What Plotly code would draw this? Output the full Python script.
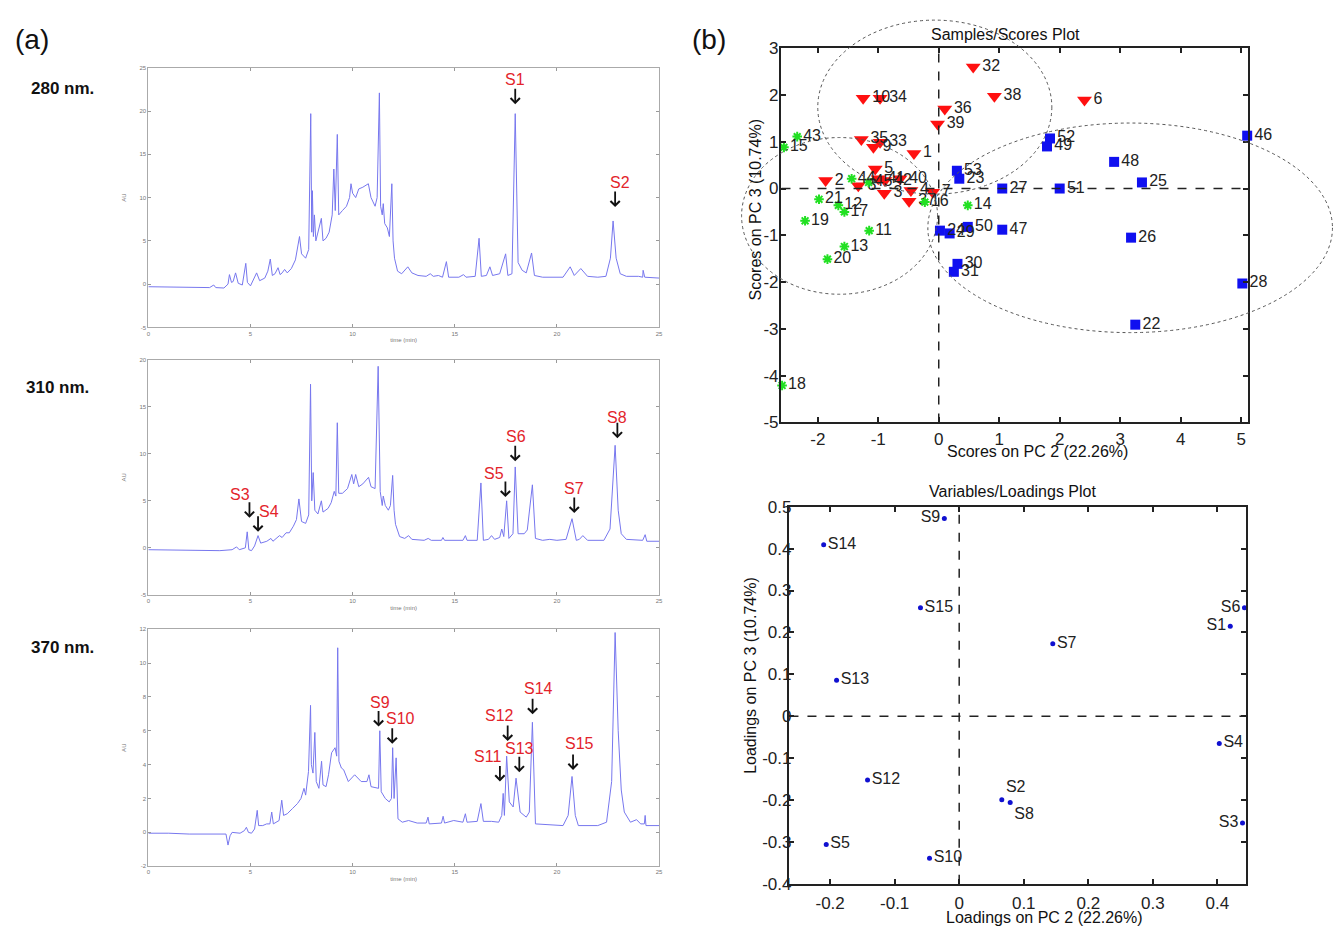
import plotly.graph_objects as go

W, H = 1339, 936

# ---------------- chromatogram data (time in min, AU) ----------------
t280 = [0, 1.5, 3.0, 3.2, 3.3, 3.7, 3.9, 3.97, 4.07, 4.15, 4.27, 4.4, 4.6, 4.77, 4.85, 5.0, 5.15, 5.3, 5.45,
        5.7, 5.85, 5.97, 6.07, 6.2, 6.35, 6.45, 6.55, 6.67, 6.8, 7.0, 7.2, 7.4, 7.5, 7.7, 7.85, 7.95, 8.0,
        8.03, 8.08, 8.13, 8.2, 8.35, 8.47, 8.55, 8.7, 8.85, 9.0, 9.08, 9.15, 9.25, 9.32, 9.5, 9.7, 9.85,
        9.92, 10.0, 10.15, 10.3, 10.5, 10.77, 10.9, 11.0, 11.1, 11.2, 11.31, 11.37, 11.45, 11.5, 11.57,
        11.7, 11.8, 11.92, 11.98, 12.05, 12.2, 12.4, 12.7, 12.9, 13.2, 13.6, 13.8, 13.95, 14.2, 14.4,
        14.59, 14.7, 15.2, 15.43, 15.55, 16.0, 16.19, 16.3, 16.55, 16.72, 16.85, 17.2, 17.49, 17.6, 17.8,
        17.96, 18.1, 18.3, 18.5, 18.76, 18.9, 19.3, 20.0, 20.3, 20.65, 20.85, 21.17, 21.5, 22.0, 22.4,
        22.62, 22.75, 22.9, 23.1, 23.4, 24.0, 24.2, 24.22, 24.3, 25.0]
au280 = [-0.3, -0.35, -0.4, -0.1, -0.4, -0.45, 0.0, 1.1, 0.2, 0.3, 1.3, 0.1, -0.1, 2.4, 0.2, -0.2, 0.5, 1.3, 0.4,
         0.7, 1.5, 2.9, 1.0, 1.2, 1.9, 1.1, 1.3, 1.7, 1.3, 1.8, 2.8, 5.5, 3.5, 3.0, 4.0, 19.7, 6.0,
         10.8, 5.5, 8.0, 5.0, 6.5, 7.6, 5.0, 5.3, 6.0, 8.0, 13.3, 8.5, 17.3, 8.0, 8.5, 9.0, 10.0,
         11.6, 10.5, 10.0, 11.0, 11.2, 11.6, 10.0, 9.5, 9.0, 10.0, 22.1, 9.0, 8.0, 9.3, 7.0,
         6.5, 5.5, 11.6, 5.0, 3.0, 1.5, 1.2, 2.0, 1.3, 1.0, 0.9, 1.2, 0.9, 1.0, 0.8,
         2.6, 0.8, 0.8, 1.1, 0.8, 0.9, 5.3, 0.9, 1.0, 2.0, 1.0, 1.2, 3.5, 1.0, 1.2,
         19.7, 2.5, 1.6, 1.3, 3.6, 1.0, 0.8, 0.8, 0.8, 2.0, 1.0, 1.8, 0.9, 0.8, 0.9,
         3.0, 7.3, 3.0, 1.2, 0.9, 0.9, 0.8, 1.6, 0.8, 0.7]

t310 = [0, 2.0, 3.5, 4.1, 4.32, 4.45, 4.75, 4.84, 4.92, 5.05, 5.2, 5.37, 5.5, 5.8, 6.0, 6.1, 6.3, 6.42, 6.55,
        6.74, 6.9, 7.1, 7.25, 7.37, 7.5, 7.7, 7.85, 7.94, 8.0, 8.07, 8.15, 8.3, 8.47, 8.55, 8.8, 8.95, 9.1,
        9.18, 9.25, 9.32, 9.5, 9.75, 9.96, 10.05, 10.15, 10.3, 10.5, 10.78, 10.9, 11.1, 11.25, 11.35,
        11.45, 11.5, 11.6, 11.75, 11.85, 11.96, 12.03, 12.1, 12.3, 12.55, 12.74, 12.9, 13.5, 13.7, 13.85,
        14.35, 14.42, 14.5, 15.4, 15.52, 15.6, 16.1, 16.28, 16.4, 16.65, 16.8, 16.95, 17.2, 17.3, 17.4,
        17.54, 17.65, 17.85, 17.96, 18.1, 18.4, 18.55, 18.8, 18.95, 19.3, 19.65, 20.0, 20.45, 20.74,
        20.95, 21.1, 21.27, 21.5, 22.3, 22.6, 22.85, 23.0, 23.15, 23.4, 24.2, 24.32, 24.4, 25.0]
au310 = [-0.2, -0.3, -0.3, -0.2, 0.1, -0.2, 0.0, 1.7, -0.2, -0.3, 0.2, 1.3, 0.5, 0.7, 1.0, 0.7, 1.1, 1.3, 1.1,
         1.6, 1.6, 2.3, 3.0, 5.2, 2.8, 2.6, 3.5, 17.4, 5.0, 8.0, 4.0, 3.6, 5.0, 3.8, 4.2, 4.8, 6.0,
         5.5, 13.3, 5.8, 5.8, 6.3, 7.8, 6.8, 7.8, 6.5, 6.8, 7.5, 6.5, 6.3, 19.3, 6.0,
         4.5, 5.5, 4.5, 4.0, 4.5, 7.7, 4.0, 2.5, 1.2, 1.0, 1.3, 0.9, 0.8, 1.0, 0.8,
         0.8, 1.1, 0.8, 0.8, 1.3, 0.8, 0.8, 6.9, 0.8, 0.9, 1.3, 0.9, 1.1, 2.0, 1.2,
         5.0, 1.0, 1.5, 8.6, 1.5, 1.5, 1.9, 6.7, 1.0, 0.8, 0.9, 0.8, 0.9, 3.1,
         0.8, 0.9, 1.3, 0.8, 0.8, 2.0, 10.9, 4.0, 1.5, 0.9, 0.8, 1.4, 0.7, 0.7]

t370 = [0, 1.0, 2.0, 3.0, 3.8, 3.9, 4.0, 4.1, 4.49, 4.7, 4.8, 4.9, 5.05, 5.2, 5.33, 5.4, 5.6, 5.79, 5.95,
        6.04, 6.12, 6.4, 6.53, 6.62, 6.8, 7.05, 7.3, 7.47, 7.62, 7.7, 7.84, 7.94, 7.98, 8.06, 8.15, 8.22,
        8.35, 8.48, 8.55, 8.7, 8.82, 8.97, 9.14, 9.22, 9.27, 9.33, 9.45, 9.56, 9.7, 9.79, 10.1, 10.42,
        10.7, 10.8, 10.9, 11.27, 11.33, 11.4, 11.6, 11.79, 11.9, 11.96, 12.03, 12.13, 12.22, 12.43,
        12.74, 13.16, 13.6, 13.69, 13.75, 14.35, 14.43, 14.5, 14.95, 15.4, 15.52, 15.6, 16.1, 16.28,
        16.4, 16.8, 17.15, 17.3, 17.37, 17.43, 17.54, 17.67, 17.86, 18.0, 18.2, 18.5, 18.65, 18.8,
        18.95, 19.5, 20.3, 20.55, 20.74, 20.9, 21.05, 22.0, 22.43, 22.68, 22.85, 23.0, 23.15, 23.3,
        23.6, 23.9, 24.1, 24.28, 24.32, 24.36, 25.0]
au370 = [-0.05, -0.05, -0.1, -0.1, -0.1, -0.75, -0.2, 0.0, -0.05, 0.1, 0.3, 0.0, -0.05, 0.2, 1.3, 0.4, 0.4, 0.5, 0.5,
         1.2, 0.5, 0.7, 1.9, 1.0, 1.1, 1.4, 1.7, 2.0, 2.6, 2.2, 3.6, 7.5, 4.0, 3.5, 5.9, 3.0,
         2.6, 4.2, 2.8, 2.7, 3.4, 4.7, 5.0, 4.5, 10.9, 4.2, 3.8, 3.7, 3.2, 3.0, 3.4, 3.0,
         3.0, 3.4, 2.7, 2.6, 6.0, 2.4, 2.0, 1.8, 2.0, 5.0, 2.0, 4.4, 0.8, 0.6,
         0.7, 0.55, 0.55, 0.9, 0.5, 0.55, 0.95, 0.55, 0.7, 0.6, 1.1, 0.6, 0.65, 1.7,
         0.65, 0.65, 0.6, 1.0, 2.3, 1.0, 4.5, 1.8, 1.5, 3.2, 1.2, 0.9, 1.2, 6.5,
         0.5, 0.45, 0.4, 1.0, 3.3, 1.0, 0.4, 0.4, 0.6, 3.0, 11.8, 6.0, 2.5, 1.2,
         0.6, 0.75, 0.5, 0.5, 1.0, 0.4, 0.4]

# peak labels: text position and arrow tip (data coords)
pk280_lab = ["S1", "S2"]
pk280_tx = [17.96, 23.1]
pk280_ty = [23.6, 11.7]
pk280_ax = [17.96, 22.85]
pk280_ay = [20.8, 8.9]

pk310_lab = ["S3", "S4", "S5", "S6", "S7", "S8"]
pk310_tx = [4.49, 5.9, 16.9, 18.0, 20.85, 22.96]
pk310_ty = [5.7, 3.9, 7.9, 11.8, 6.3, 13.9]
pk310_ax = [4.95, 5.37, 17.48, 17.96, 20.85, 22.96]
pk310_ay = [3.2, 1.7, 5.4, 9.2, 3.7, 11.65]

pk370_lab = ["S9", "S10", "S11", "S12", "S13", "S14", "S15"]
pk370_tx = [11.33, 12.36, 16.58, 17.17, 18.18, 19.12, 21.12]
pk370_ty = [7.66, 6.70, 4.46, 6.93, 4.96, 8.51, 5.23]
pk370_ax = [11.27, 11.94, 17.21, 17.59, 18.16, 18.81, 20.79]
pk370_ay = [6.25, 5.23, 3.01, 5.39, 3.55, 6.97, 3.69]

# ---------------- PCA scores ----------------
red_ids = ["32", "38", "6", "10", "34", "36", "39", "35", "33", "9", "1", "5", "2", "40", "41", "42", "8", "3",
           "4", "37", "7"]
red_pc2 = [0.57, 0.92, 2.41, -1.25, -0.97, 0.10, -0.02, -1.28, -0.97, -1.08, -0.41, -1.05, -1.87, -0.64, -1.0,
           -0.89, -1.33, -0.90, -0.46, -0.49, -0.10]
red_pc3 = [2.60, 1.97, 1.89, 1.93, 1.93, 1.70, 1.38, 1.05, 0.99, 0.88, 0.75, 0.42, 0.17, 0.21, 0.21,
           0.17, 0.06, -0.10, -0.04, -0.27, -0.08]

green_ids = ["43", "15", "21", "12", "17", "19", "11", "13", "20", "18", "16", "14", "44", "45"]
green_pc2 = [-2.34, -2.56, -1.98, -1.66, -1.56, -2.21, -1.15, -1.56, -1.84, -2.59, -0.23, 0.48, -1.44, -1.16]
green_pc3 = [1.11, 0.88, -0.23, -0.36, -0.50, -0.69, -0.90, -1.24, -1.51, -4.21, -0.29, -0.36, 0.21, 0.13]

blue_ids = ["53", "23", "27", "51", "52", "49", "48", "25", "46", "26", "28", "22", "47", "50", "29", "24",
            "30", "31"]
blue_pc2 = [0.30, 0.34, 1.05, 2.0, 1.84, 1.79, 2.90, 3.36, 5.10, 3.18, 5.02, 3.25, 1.05, 0.48, 0.18, 0.02,
            0.31, 0.25]
blue_pc3 = [0.38, 0.21, 0.0, 0.0, 1.07, 0.90, 0.57, 0.13, 1.13, -1.05, -2.03, -2.91, -0.88, -0.82, -0.96,
            -0.90, -1.61, -1.78]

# confidence ellipses (PC2 min, PC2 max, PC3 min, PC3 max)
ell_x0 = [-2.0, -3.26, -0.18]
ell_x1 = [1.87, -0.02, 6.51]
ell_y0 = [-0.12, -2.26, -3.08]
ell_y1 = [3.6, 1.09, 1.40]

# ---------------- PCA loadings ----------------
load_lab = ["S1", "S2", "S3", "S4", "S5", "S6", "S7", "S8", "S9", "S10", "S11", "S12", "S13", "S14", "S15"]
load_pc2 = [0.42, 0.066, 0.439, 0.403, -0.206, 0.442, 0.145, 0.079, -0.023, -0.046, -0.266, -0.142, -0.19,
            -0.21, -0.06]
load_pc3 = [0.215, -0.199, -0.255, -0.065, -0.306, 0.259, 0.173, -0.206, 0.472, -0.339, 0.107, -0.152, 0.086,
            0.409, 0.259]

# ---------------- styles / layout helpers ----------------
label_pos = {"S1": "middle left", "S2": "top right", "S3": "middle left", "S6": "middle left",
             "S8": "bottom right", "S9": "middle left"}
FONT = "Arial, Liberation Sans, sans-serif"


def fx(px):
    return px / W


def fy(py):
    return 1 - py / H


fig = go.Figure()

chrom = [
    ("x", "y", t280, au280, [-5, 25], 5, (60, 325), pk280_lab, pk280_tx, pk280_ty, pk280_ax, pk280_ay),
    ("x2", "y2", t310, au310, [-5, 20], 5, (358, 598), pk310_lab, pk310_tx, pk310_ty, pk310_ax, pk310_ay),
    ("x3", "y3", t370, au370, [-2, 12], 2, (633, 875), pk370_lab, pk370_tx, pk370_ty, pk370_ax, pk370_ay),
]

annotations = []
shapes = []
chrom_line = "#7777ee"
for i, (xa, ya, tt, aa, yr, dy, (ptop, pbot), lab, tx, ty, ax, ay) in enumerate(chrom):
    fig.add_trace(go.Scatter(x=tt, y=aa, mode="lines", xaxis=xa, yaxis=ya,
                             line=dict(color=chrom_line, width=1), hoverinfo="skip"))
    n = "" if i == 0 else str(i + 1)
    yt = list(range(yr[0], yr[1] + 1, dy))
    fig.layout["xaxis" + n] = dict(domain=[fx(147), fx(660)], range=[0, 25], anchor=ya,
                                   tickvals=[0, 5, 10, 15, 20, 25], ticktext=["0", "5", "10", "15", "20", "25"],
                                   ticks="inside", ticklen=3, tickcolor="#999", showline=True, linecolor="#aaa",
                                   linewidth=1, mirror="ticks", showgrid=False, zeroline=False,
                                   tickfont=dict(size=6, color="#777", family=FONT),
                                   title=dict(text="time (min)", font=dict(size=6, color="#777", family=FONT),
                                              standoff=2))
    fig.layout["yaxis" + n] = dict(domain=[fy(pbot), fy(ptop)], range=yr, anchor=xa,
                                   tickvals=yt, ticktext=[str(v) for v in yt],
                                   ticks="inside", ticklen=3, tickcolor="#999", showline=True, linecolor="#aaa",
                                   linewidth=1, mirror="ticks", showgrid=False, zeroline=False,
                                   tickfont=dict(size=6, color="#777", family=FONT),
                                   title=dict(text="AU", font=dict(size=6, color="#777", family=FONT),
                                              standoff=12))
    for k in range(len(lab)):
        annotations.append(dict(x=tx[k], y=ty[k], xref=xa, yref=ya, text=lab[k], showarrow=False,
                                font=dict(size=16, color="#e3242b", family=FONT)))
        annotations.append(dict(x=ax[k], y=ay[k], xref=xa, yref=ya, text="", showarrow=True,
                                ax=0, ay=-17, arrowhead=4, arrowsize=1.0, arrowwidth=1.8,
                                arrowcolor="#111", standoff=0))

# scores plot
sx0, sx1, sy0, sy1 = 783, 1252, 40, 422
sc_xr, sc_yr = [-2.6, 5.12], [-5, 3]
groups = [
    (red_ids, red_pc2, red_pc3, dict(symbol="triangle-down", size=13, color="#ff1010", line=dict(width=0))),
    (green_ids, green_pc2, green_pc3, dict(symbol="asterisk-open", size=8, color="#22e022",
                                           line=dict(color="#22e022", width=2))),
    (blue_ids, blue_pc2, blue_pc3, dict(symbol="square", size=10, color="#1010f0", line=dict(width=0))),
]
for ids, px_, py_, mk in groups:
    fig.add_trace(go.Scatter(x=px_, y=py_, text=ids, mode="markers+text", textposition="middle right",
                             textfont=dict(size=16, color="#222", family=FONT), marker=mk,
                             xaxis="x4", yaxis="y4", cliponaxis=False, hoverinfo="skip"))

axis_common = dict(ticks="inside", ticklen=5, tickwidth=1.5, tickcolor="#222", showline=True, linecolor="#222",
                   linewidth=2, mirror="ticks", showgrid=False, zeroline=False,
                   tickfont=dict(size=17, color="#222", family=FONT))
label_axis = dict(showline=False, ticks="", showgrid=False, zeroline=False, anchor="free", side="left",
                  tickfont=dict(size=17, color="#222", family=FONT))
sxt = list(range(-2, 6))
syt = list(range(-5, 4))
fig.layout["xaxis4"] = dict(domain=[fx(sx0), fx(sx1)], range=sc_xr, anchor="y4", tickvals=sxt,
                            ticktext=[str(v) for v in sxt], **axis_common)
fig.layout["yaxis4"] = dict(domain=[fy(sy1), fy(sy0)], range=sc_yr, anchor="x4", tickvals=syt,
                            showticklabels=False, **axis_common)
# y tick labels placed tight against the axis line (as in the reference)
fig.layout["yaxis7"] = dict(overlaying="y4", range=sc_yr, position=fx(sx0 - 3), tickvals=syt,
                            ticktext=[str(v) for v in syt], **label_axis)
fig.add_trace(go.Scatter(x=[None], y=[None], xaxis="x4", yaxis="y7", mode="markers", hoverinfo="skip"))

# overlay axes sharing the scores scale, larger area so ellipses are not clipped at the box
ox0, ox1, oy0, oy1 = 690, 1339, 0, 470
kx = (sc_xr[1] - sc_xr[0]) / (sx1 - sx0)
ky = (sc_yr[1] - sc_yr[0]) / (sy1 - sy0)
ov_xr = [sc_xr[0] - (sx0 - ox0) * kx, sc_xr[1] + (ox1 - sx1) * kx]
ov_yr = [sc_yr[0] - (oy1 - sy1) * ky, sc_yr[1] + (sy0 - oy0) * ky]
fig.layout["xaxis6"] = dict(domain=[fx(ox0), fx(ox1)], range=ov_xr, anchor="y6", visible=False)
fig.layout["yaxis6"] = dict(domain=[fy(oy1), fy(oy0)], range=ov_yr, anchor="x6", visible=False)
for k in range(len(ell_x0)):
    shapes.append(dict(type="circle", xref="x6", yref="y6", x0=ell_x0[k], x1=ell_x1[k], y0=ell_y0[k],
                       y1=ell_y1[k], line=dict(color="#555", width=1, dash="dot"), layer="above"))

# loadings plot
lx0, lx1, ly0, ly1 = 791, 1250, 508, 893
lxt = [-0.2, -0.1, 0, 0.1, 0.2, 0.3, 0.4]
lyt = [-0.4, -0.3, -0.2, -0.1, 0, 0.1, 0.2, 0.3, 0.4, 0.5]
fig.add_trace(go.Scatter(x=load_pc2, y=load_pc3, text=load_lab, mode="markers+text",
                         textposition=[label_pos.get(s, "middle right") for s in load_lab],
                         textfont=dict(size=16, color="#222", family=FONT),
                         marker=dict(size=5, color="#1010d0"), xaxis="x5", yaxis="y5",
                         cliponaxis=False, hoverinfo="skip"))
fig.layout["xaxis5"] = dict(domain=[fx(lx0), fx(lx1)], range=[-0.263, 0.445], anchor="y5", tickvals=lxt,
                            ticktext=["-0.2", "-0.1", "0", "0.1", "0.2", "0.3", "0.4"], ticklabelstandoff=3,
                            **axis_common)
fig.layout["yaxis5"] = dict(domain=[fy(ly1), fy(ly0)], range=[-0.4, 0.5], anchor="x5", tickvals=lyt,
                            showticklabels=False, **axis_common)
fig.layout["yaxis8"] = dict(overlaying="y5", range=[-0.4, 0.5], position=fx(lx0 + 2), tickvals=lyt,
                            ticktext=["-0.4", "-0.3", "-0.2", "-0.1", "0", "0.1", "0.2", "0.3", "0.4", "0.5"],
                            **label_axis)
fig.add_trace(go.Scatter(x=[None], y=[None], xaxis="x5", yaxis="y8", mode="markers", hoverinfo="skip"))

# dashed zero lines
for xa, ya in [("x4", "y4"), ("x5", "y5")]:
    shapes.append(dict(type="line", xref=xa, yref=ya + " domain", x0=0, x1=0, y0=0, y1=1,
                       line=dict(color="#222", width=1.5, dash="dash")))
    shapes.append(dict(type="line", xref=xa + " domain", yref=ya, x0=0, x1=1, y0=0, y1=0,
                       line=dict(color="#222", width=1.5, dash="dash")))

# titles and panel text
txt = [
    ("(a)", 30, 31, 28, 0), ("(b)", 710, 31, 28, 0),
    ("<b>280 nm.</b>", 61, 81, 17, 0), ("<b>310 nm.</b>", 56, 386, 17, 0),
    ("<b>370 nm.</b>", 61, 652, 17, 0),
    ("Samples/Scores Plot", 1008, 26, 16, 0),
    ("Scores on PC 2 (22.26%)", 1040, 452, 16, 0),
    ("Scores on PC 3 (10.74%)", 757, 205, 16, -90),
    ("Variables/Loadings Plot", 1015, 493, 16, 0),
    ("Loadings on PC 2 (22.26%)", 1047, 927, 16, 0),
    ("Loadings on PC 3 (10.74%)", 752, 680, 16, -90),
]
for s, px_, py_, size, ang in txt:
    annotations.append(dict(x=fx(px_), y=fy(py_), xref="paper", yref="paper", text=s, showarrow=False,
                            xanchor="center", yanchor="middle", textangle=ang,
                            font=dict(size=size, color="#111", family=FONT)))

fig.update_layout(width=W, height=H, margin=dict(l=0, r=0, t=0, b=0), paper_bgcolor="white",
                  plot_bgcolor="rgba(0,0,0,0)", showlegend=False, annotations=annotations, shapes=shapes,
                  font=dict(family=FONT))

post = ("document.body.style.margin='0';"
        "var d=document.getElementById('{plot_id}');"
        "d.style.position='absolute';d.style.left='0px';d.style.top='0px';")
fig.write_html("out.html", config={"displayModeBar": False}, post_script=post)
